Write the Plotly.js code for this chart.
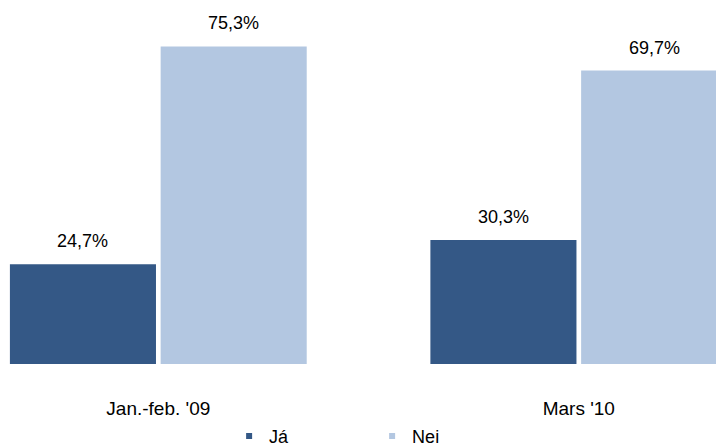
<!DOCTYPE html>
<html>
<head>
<meta charset="utf-8">
<script src="https://cdn.plot.ly/plotly-3.0.1.min.js"></script>
<style>html,body{margin:0;padding:0;background:#fff;}#chart{width:716px;height:447px;}</style>
</head>
<body>
<div id="chart"></div>
<script>
const categories = ["Jan.-feb. '09", "Mars '10"];
const seriesNames = ["Já", "Nei"];
const jaValues = [24.7, 30.3];
const neiValues = [75.3, 69.7];
const jaLabels = ["24,7%", "30,3%"];
const neiLabels = ["75,3%", "69,7%"];

const FONT = "'Liberation Sans Narrow', 'Arial Narrow', 'Liberation Sans', Arial, sans-serif";
const colJa = "#345886";
const colNei = "#b3c7e1";

const xIdx = categories.map((c, i) => i);

const traces = [
  {type: 'bar', x: xIdx, y: jaValues, name: seriesNames[0], marker: {color: colJa}, showlegend: false, hoverinfo: 'none'},
  {type: 'bar', x: xIdx, y: neiValues, name: seriesNames[1], marker: {color: colNei}, showlegend: false, hoverinfo: 'none'},
  {type: 'scatter', mode: 'markers', x: [null], y: [null], name: seriesNames[0], marker: {symbol: 'square', size: 6, color: colJa}},
  {type: 'scatter', mode: 'markers', x: [null], y: [null], name: seriesNames[1], marker: {symbol: 'square', size: 6, color: colNei}}
];

const barShift = 75.4;
const labelFont = {family: FONT, size: 18, color: '#000'};
const annotations = [];
xIdx.forEach((x, i) => {
  annotations.push({x: x, y: jaValues[i], xref: 'x', yref: 'y', text: jaLabels[i], showarrow: false,
    xshift: -barShift, yanchor: 'bottom', yshift: 11, font: labelFont});
  annotations.push({x: x, y: neiValues[i], xref: 'x', yref: 'y', text: neiLabels[i], showarrow: false,
    xshift: barShift, yanchor: 'bottom', yshift: 11, font: labelFont});
});

const layout = {
  width: 716, height: 447,
  margin: {l: 0, r: 0, t: 0, b: 83, pad: 0, autoexpand: false},
  paper_bgcolor: '#fff', plot_bgcolor: '#fff',
  barmode: 'group', bargap: 0.283, bargroupgap: 0.031,
  font: {family: FONT, size: 19, color: '#000'},
  xaxis: {
    range: [-0.3765, 1.3263], tickvals: xIdx, ticktext: categories,
    showgrid: false, zeroline: false, showline: false,
    ticks: 'outside', ticklen: 27, tickcolor: 'rgba(0,0,0,0)',
    tickfont: {family: FONT, size: 19, color: '#000'}, fixedrange: true, automargin: false
  },
  yaxis: {range: [1.5, 86.1], visible: false, fixedrange: true},
  showlegend: true,
  legend: {orientation: 'h', x: 0.32, xanchor: 'left', xref: 'container',
    y: 0.024, yanchor: 'middle', yref: 'container',
    entrywidth: 98, entrywidthmode: 'pixels', itemwidth: 30,
    font: {family: FONT, size: 18, color: '#000'}, bgcolor: 'rgba(0,0,0,0)'},
  annotations: annotations
};

Plotly.newPlot('chart', traces, layout, {displayModeBar: false, staticPlot: true});
</script>
</body>
</html>
